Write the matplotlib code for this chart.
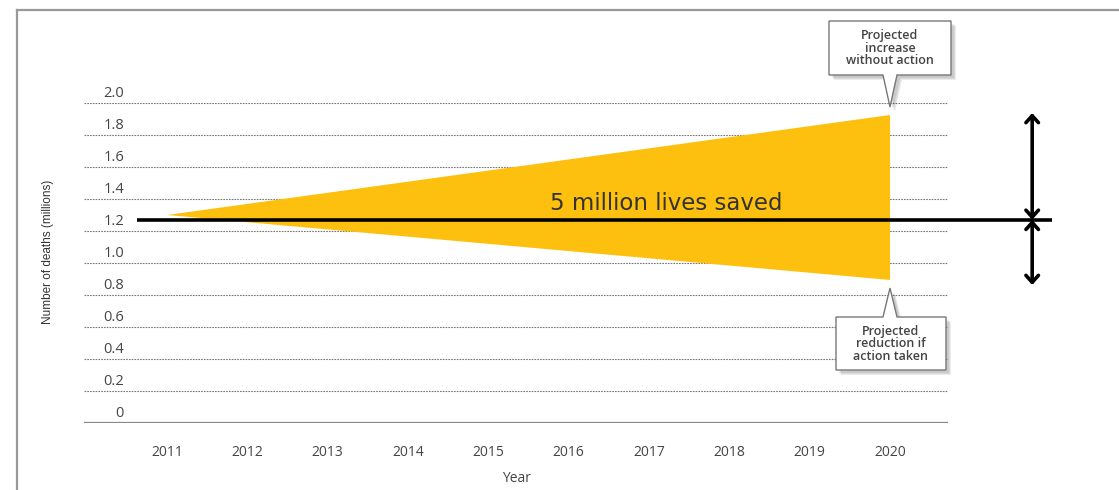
import matplotlib
matplotlib.use("Agg")
import matplotlib.pyplot as plt
import matplotlib.patches as patches
import matplotlib.transforms as transforms
from matplotlib.lines import Line2D

# data
years = [2011, 2012, 2013, 2014, 2015, 2016, 2017, 2018, 2019, 2020]
y_ticks = [0, 0.2, 0.4, 0.6, 0.8, 1.0, 1.2, 1.4, 1.6, 1.8, 2.0]
y_tick_labels = ["0", "0.2", "0.4", "0.6", "0.8", "1.0", "1.2", "1.4", "1.6", "1.8", "2.0"]
wedge_years = [2011, 2020, 2020]
wedge_values = [1.30, 1.925, 0.894]
baseline = 1.27
baseline_span = [2010.63, 2022.02]
arrow_x = 2021.77
arrow_top = 1.9375
arrow_bottom = 0.8625
callout_top = "Projected\nincrease\nwithout action"
callout_bottom = "Projected\nreduction if\naction taken"

YELLOW = "#FEC00F"
TEXT = "#444444"

fig = plt.figure(figsize=(11.19, 4.90), dpi=100)
ax = fig.add_axes([84 / 1119, 1 - 423 / 490, (948 - 84) / 1119, (423 - 103) / 490])
ax.set_xlim(2009.967, 2020.722)
ax.set_ylim(0, 2.0)
for s in ax.spines.values():
    s.set_visible(False)

# grid
for v in y_ticks[1:]:
    ax.axhline(v, color="#777777", lw=0.8, ls=(0, (1.5, 1)), zorder=1)
ax.axhline(0, color="#888888", lw=1.6, zorder=1)

# y labels sit above their gridline
for v, lab in zip(y_ticks, y_tick_labels):
    ax.text(2010.465, v + 0.0625, lab, ha="right", va="center", fontsize=10.5,
            color=TEXT, family="Open Sans", clip_on=False)
ax.set_yticks([])

ax.set_xticks(years)
ax.set_xticklabels([str(y) for y in years], fontsize=10, color=TEXT, family="Open Sans")
ax.tick_params(axis="x", length=0, pad=16)
ax.set_xlabel("Year", fontsize=10, color=TEXT, family="Open Sans", labelpad=8)
fig.text(48 / 1119, 1 - 252 / 490, "Number of deaths (millions)", rotation=90,
         ha="center", va="center", fontsize=8.5, color="#333333", family="Liberation Sans")

# yellow wedge
ax.fill(wedge_years, wedge_values, color=YELLOW, lw=0, zorder=2)
ax.plot(baseline_span, [baseline, baseline], color="black", lw=2.6, zorder=3,
        clip_on=False, solid_capstyle="butt")
ax.text(2017.21, 1.30, "5 million lives saved", ha="center", va="bottom",
        fontsize=16.5, color="#333333", family="DejaVu Sans", zorder=4)

# arrows
for y_end in (arrow_top, arrow_bottom):
    ax.annotate("", xy=(arrow_x, y_end), xytext=(arrow_x, baseline),
                arrowprops=dict(arrowstyle="<->,head_length=0.5,head_width=0.45",
                                lw=2.6, color="black", shrinkA=0, shrinkB=0),
                annotation_clip=False, zorder=5)


def callout(tip_x, tip_y, text, box):
    # box given in pixel offsets from the tip: (left, right, near, far)
    l, r, near, far = box
    base = 7
    verts = [(0, 0), (base, near), (r, near), (r, far), (l, far), (l, near), (-base, near)]
    verts = [(x / 100, y / 100) for x, y in verts]
    trans = fig.dpi_scale_trans + transforms.ScaledTranslation(tip_x, tip_y, ax.transData)
    for k, a in enumerate([0.07, 0.07, 0.08]):
        shadow = patches.Polygon(verts, closed=True, facecolor="#000000", edgecolor="none",
                                 alpha=a, transform=trans + transforms.Affine2D().translate(3 + k, -3 - k),
                                 clip_on=False, zorder=6)
        fig.add_artist(shadow)
    poly = patches.Polygon(verts, closed=True, facecolor="white", edgecolor="#777777",
                           lw=1.0, transform=trans, clip_on=False, zorder=7)
    fig.add_artist(poly)
    cx = (l + r) / 2 / 100
    cy = (near + far) / 2 / 100
    fig.text(cx, cy, text, transform=trans, ha="center", va="center", fontsize=9,
             color="#444444", family="Open Sans", weight="semibold", linespacing=0.95,
             zorder=8)


callout(2020, 1.975, callout_top, (-61, 61, 32, 86))
callout(2020, 0.84375, callout_bottom, (-54, 56, -29, -82))

# page frame
fig.add_artist(Line2D([17 / 1119, 17 / 1119], [0, 1 - 10 / 490], color="#999999", lw=1.6,
                      transform=fig.transFigure))
fig.add_artist(Line2D([17 / 1119, 1], [1 - 10 / 490, 1 - 10 / 490], color="#999999", lw=1.6,
                      transform=fig.transFigure))

fig.savefig("out.png", dpi=100)
